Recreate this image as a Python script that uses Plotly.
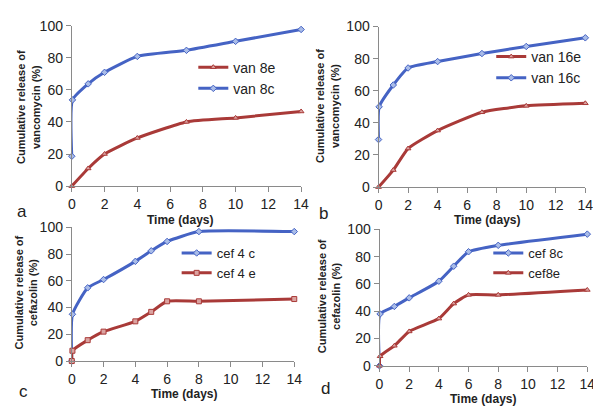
import plotly.graph_objects as go

W, H = 601, 411

# ---------------- data ----------------
a_days_c = [0, 0.04, 1, 2, 4, 7, 10, 14]
a_van8c = [18.6, 53.7, 63.7, 70.9, 80.8, 84.6, 90.2, 97.6]
a_days_e = [0, 1, 2, 4, 7, 10, 14]
a_van8e = [0, 11, 20, 30, 40, 42.5, 46.5]

b_days_c = [0, 0.04, 1, 2, 4, 7, 10, 14]
b_van16c = [29.6, 50, 63.6, 74.2, 78.2, 83.2, 87.6, 93]
b_days_e = [0, 1, 2, 4, 7, 10, 14]
b_van16e = [0, 10.6, 24, 35.2, 46.6, 50.6, 52.2]

c_days = [0, 0.04, 1, 2, 4, 5, 6, 8, 14]
c_cef4c = [0, 35, 54.8, 61, 74.6, 82.5, 89.5, 96.9, 96.9]
c_cef4e = [0, 7.7, 15.6, 22, 29.7, 36.8, 44.7, 44.7, 46.4]

d_days = [0, 0.04, 1, 2, 4, 5, 6, 8, 14]
d_cef8c = [0, 38, 43.5, 49.8, 62, 73, 83.6, 88.3, 96.5]
d_cef8e = [0, 7, 14.7, 25.2, 34.6, 45.6, 52, 52, 55.6]

x_ticks = [0, 2, 4, 6, 8, 10, 12, 14]
y_ticks = [0, 20, 40, 60, 80, 100]

BLUE = "#4563C4"
BLUE_M = "#A9BCE8"
RED = "#A93A38"
RED_M = "#DBA3A1"
AXC = "#8A8A8A"
FONT = "Liberation Sans, Arial, sans-serif"

# panel pixel boxes: (x0, x1, ytop, ybottom)
boxes = {
    "a": (61, 295, 10, 177),
    "b": (374, 585, 11, 178),
    "c": (61, 288, 220, 359),
    "d": (375, 587, 222, 364),
}

fig = go.Figure()

def px_x(x):
    return x / W

def px_y(y):
    return 1 - y / H

panels = [
    ("a", "", "", "legend",
     [("van 8e", a_days_e, a_van8e, RED, RED_M, "triangle-up"),
      ("van 8c", a_days_c, a_van8c, BLUE, BLUE_M, "diamond")]),
    ("b", "2", "2", "legend2",
     [("van 16e", b_days_e, b_van16e, RED, RED_M, "triangle-up"),
      ("van 16c", b_days_c, b_van16c, BLUE, BLUE_M, "diamond")]),
    ("c", "3", "3", "legend3",
     [("cef 4 c", c_days, c_cef4c, BLUE, BLUE_M, "diamond"),
      ("cef 4 e", c_days, c_cef4e, RED, RED_M, "square")]),
    ("d", "4", "4", "legend4",
     [("cef 8c", d_days, d_cef8c, BLUE, BLUE_M, "diamond"),
      ("cef8e", d_days, d_cef8e, RED, RED_M, "triangle-up")]),
]

for key, xs, ys, leg, series in panels:
    for name, xv, yv, col, mcol, sym in series:
        fig.add_trace(go.Scatter(
            x=xv, y=yv, name=name, mode="lines+markers",
            xaxis="x" + xs, yaxis="y" + ys, legend=leg,
            line=dict(color=col, width=3, shape="spline", smoothing=0.5),
            marker=dict(symbol=sym, size=5, color=mcol, line=dict(color=col, width=1)),
            cliponaxis=False,
        ))

layout = dict(
    width=W, height=H, margin=dict(l=0, r=0, t=0, b=0),
    paper_bgcolor="white", plot_bgcolor="white",
    font=dict(family=FONT, size=13, color="#222"),
    showlegend=True,
)

for key, xs, ys, leg, series in panels:
    x0, x1, yt, yb = boxes[key]
    ax = dict(domain=[px_x(x0), px_x(x1)], range=[0, 14], tickvals=x_ticks,
              showline=True, linecolor=AXC, linewidth=1, ticks="outside",
              ticklen=5, tickcolor=AXC, showgrid=False, zeroline=False,
              anchor="y" + ys, tickfont=dict(size=14, color="#222"), fixedrange=True)
    ay = dict(domain=[px_y(yb), px_y(yt)], range=[0, 100], tickvals=y_ticks,
              showline=True, linecolor=AXC, linewidth=1, ticks="outside",
              ticklen=5, tickcolor=AXC, showgrid=False, zeroline=False,
              anchor="x" + xs, tickfont=dict(size=14, color="#222"), fixedrange=True)
    layout["xaxis" + xs] = ax
    layout["yaxis" + ys] = ay

legpos = {
    "legend": (185, 37, 14),
    "legend2": (489, 26, 14),
    "legend3": (168, 231, 13),
    "legend4": (486, 231, 13),
}
for lk, (lx, ly, fs) in legpos.items():
    layout[lk] = dict(x=px_x(lx), y=px_y(ly), xanchor="left", yanchor="top",
                      bgcolor="rgba(0,0,0,0)", font=dict(size=fs, color="#222"),
                      itemwidth=30, tracegroupgap=0)

fig.update_layout(**layout)

ann = []
ytitles = [
    (17, 95, "Cumulative release of<br>vancomycin (%)"),
    (322, 94, "Cumulative release of<br>vancomycin (%)"),
    (14, 288, "Cumulative release of<br>cefazolin (%)"),
    (323, 292, "Cumulative release of<br>cefazolin (%)"),
]
for x, y, t in ytitles:
    ann.append(dict(x=px_x(x), y=px_y(y), xref="paper", yref="paper", text="<b>" + t + "</b>",
                    textangle=-90, showarrow=False, font=dict(size=11, color="#222"),
                    xanchor="center", yanchor="middle"))
xtitles = [(171, 212), (485, 212), (175, 393), (481, 398)]
for x, y in xtitles:
    ann.append(dict(x=px_x(x), y=px_y(y), xref="paper", yref="paper", text="<b>Time (days)</b>",
                    showarrow=False, font=dict(size=12, color="#222"),
                    xanchor="center", yanchor="middle"))
plabels = [(10, 203, "a"), (318, 205, "b"), (12, 391, "c"), (320, 388, "d")]
for x, y, t in plabels:
    ann.append(dict(x=px_x(x), y=px_y(y), xref="paper", yref="paper", text=t,
                    showarrow=False, font=dict(size=17, color="#222"),
                    xanchor="center", yanchor="middle"))
fig.update_layout(annotations=ann)

fig.write_html("out.html")
